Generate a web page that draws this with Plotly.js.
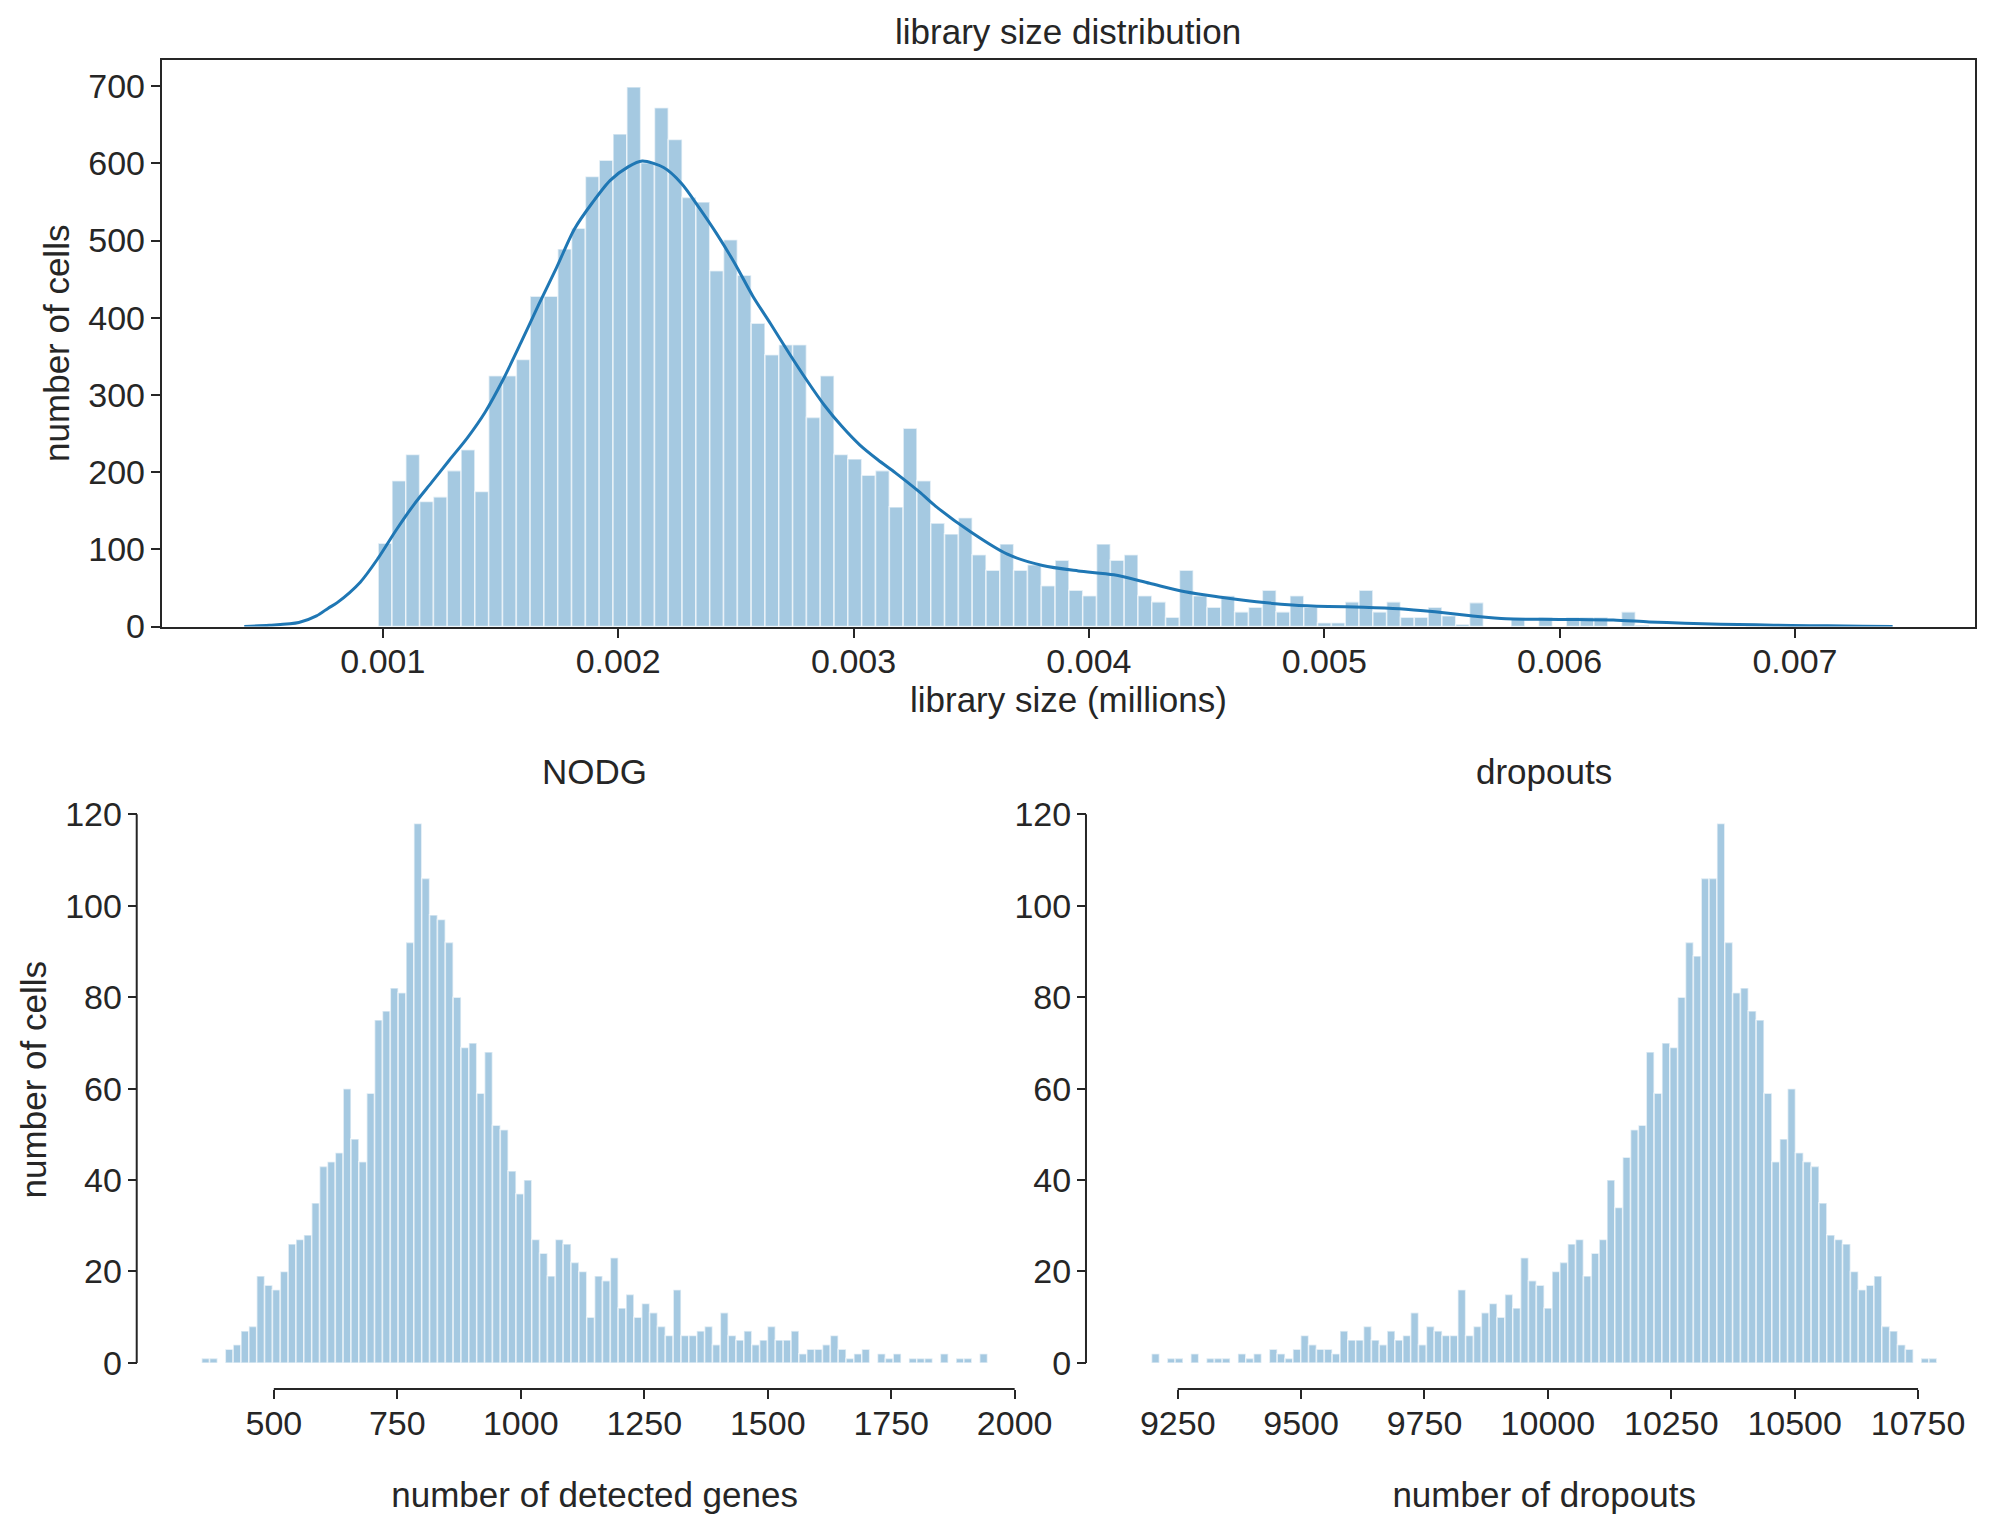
<!DOCTYPE html>
<html><head><meta charset="utf-8">
<script src="https://cdn.plot.ly/plotly-3.0.1.min.js"></script>
<style>html,body{margin:0;padding:0;background:#fff}</style>
</head><body><div id="chart" style="width:1993px;height:1530px"></div>
<script>
// ---------- data ----------
const libRange = [0.00098, 0.00685];
const libCounts = [
  108, 189, 223, 162, 168, 202, 229, 175, 325, 325,
  346, 428, 428, 489, 516, 583, 604, 638, 699, 601,
  672, 631, 556, 550, 461, 501, 455, 393, 352, 365,
  365, 271, 325, 223, 217, 196, 202, 155, 257, 189,
  134, 120, 141, 93, 73, 107, 73, 80, 53, 86,
  47, 40, 107, 86, 93, 40, 32, 12, 73, 40,
  25, 40, 19, 25, 47, 19, 40, 25, 5, 5,
  32, 47, 19, 32, 12, 12, 25, 14, 3, 31,
  0, 0, 11, 0, 12, 0, 12, 12, 12, 0,
  19, 2, 0, 0, 0, 0, 0, 0, 0, 2
];
const kdeX = [0.000411, 0.000517, 0.000643, 0.000718, 0.000768, 0.000806, 0.000904, 0.000980,
  0.001056, 0.001132, 0.001208, 0.001283, 0.001359, 0.001435, 0.001511, 0.001587, 0.001662,
  0.001738, 0.001814, 0.001890, 0.001966, 0.002042, 0.002102, 0.002193, 0.002269, 0.002345,
  0.002420, 0.002496, 0.002572, 0.002648, 0.002724, 0.002799, 0.002875, 0.002951, 0.003027,
  0.003103, 0.003178, 0.003281, 0.003348, 0.003500, 0.003651, 0.003803, 0.003955, 0.004106,
  0.004258, 0.004409, 0.004561, 0.004712, 0.004864, 0.005016, 0.005167, 0.005319, 0.005470,
  0.005622, 0.005773, 0.005925, 0.006077, 0.006228, 0.006380, 0.006531, 0.006683, 0.006834,
  0.006986, 0.007138, 0.007289, 0.007415];
const kdeY = [0.2, 1.7, 5.2, 13.8, 23.8, 31, 57.5, 88.6,
  124.7, 158, 187, 215.8, 244.5, 278, 320, 368, 417,
  465, 515, 549, 578, 595.5, 603, 594.6, 574, 542,
  508, 470, 428, 392, 355, 320, 287, 259, 235,
  216, 199, 174, 156, 122, 94, 79, 72, 67,
  56, 45, 38, 32, 28, 26, 25, 23, 19,
  14, 10, 9.5, 9, 8.6, 6, 4.3, 3, 2.2,
  1.3, 0.9, 0.5, 0.2];

const nodgRange = [354, 1945];
const nodgCounts = [
  1, 1, 0, 3, 4, 7, 8, 19, 17, 16,
  20, 26, 27, 28, 35, 43, 44, 46, 60, 49,
  44, 59, 75, 77, 82, 81, 92, 118, 106, 98,
  97, 92, 80, 69, 70, 59, 68, 52, 51, 42,
  37, 40, 27, 24, 19, 27, 26, 22, 20, 10,
  19, 18, 23, 12, 15, 10, 13, 11, 8, 6,
  16, 6, 6, 7, 8, 4, 11, 6, 5, 7,
  4, 5, 8, 5, 5, 7, 2, 3, 3, 4,
  6, 3, 1, 2, 3, 0, 2, 1, 2, 0,
  1, 1, 1, 0, 2, 0, 1, 1, 0, 2
];

const dropRange = [9197, 10788];
const dropCounts = [
  2, 0, 1, 1, 0, 2, 0, 1, 1, 1,
  0, 2, 1, 2, 0, 3, 2, 1, 3, 6,
  4, 3, 3, 2, 7, 5, 5, 8, 5, 4,
  7, 5, 6, 11, 4, 8, 7, 6, 6, 16,
  6, 8, 11, 13, 10, 15, 12, 23, 18, 17,
  12, 20, 22, 26, 27, 19, 24, 27, 40, 34,
  45, 51, 52, 68, 59, 70, 69, 80, 92, 89,
  106, 106, 118, 92, 81, 82, 77, 75, 59, 44,
  49, 60, 46, 44, 43, 35, 28, 27, 26, 20,
  16, 17, 19, 8, 7, 4, 3, 0, 1, 1
];

const libXTicks = [0.001, 0.002, 0.003, 0.004, 0.005, 0.006, 0.007];
const libXTickText = ['0.001', '0.002', '0.003', '0.004', '0.005', '0.006', '0.007'];
const libYTicks = [0, 100, 200, 300, 400, 500, 600, 700];
const nodgTicks = [500, 750, 1000, 1250, 1500, 1750, 2000];
const nodgTickText = ['500', '750', '1000', '1250', '1500', '1750', '2000'];
const dropTicks = [9250, 9500, 9750, 10000, 10250, 10500, 10750];
const dropTickText = ['9250', '9500', '9750', '10000', '10250', '10500', '10750'];
const countTicks = [0, 20, 40, 60, 80, 100, 120];

const titles = ['library size distribution', 'NODG', 'dropouts'];
const xLabels = ['library size (millions)', 'number of detected genes', 'number of dropouts'];
const yLabel = 'number of cells';

// ---------- helpers ----------
function bins(range, counts) {
  const n = counts.length;
  const w = (range[1] - range[0]) / n;
  return { x: counts.map((_, i) => range[0] + w * (i + 0.5)), w: w };
}
function pad(range, f) { const d = range[1] - range[0]; return [range[0] - d * f, range[1] + d * f]; }

const INK = '#262626';
const FONT = 'Liberation Sans, Arial, Helvetica, sans-serif';
const barStyle = { color: 'rgba(31,119,180,0.4)', line: { color: 'rgba(255,255,255,0.6)', width: 1.6 } };

const bLib = bins(libRange, libCounts);
const bNodg = bins(nodgRange, nodgCounts);
const bDrop = bins(dropRange, dropCounts);

const traces = [
  { type: 'bar', x: bLib.x, y: libCounts, width: bLib.w, marker: barStyle, xaxis: 'x', yaxis: 'y' },
  { type: 'scatter', mode: 'lines', x: kdeX, y: kdeY, line: { color: '#1f77b4', width: 3, shape: 'spline', smoothing: 0.8 }, xaxis: 'x', yaxis: 'y' },
  { type: 'bar', x: bNodg.x, y: nodgCounts, width: bNodg.w, marker: barStyle, xaxis: 'x2', yaxis: 'y2' },
  { type: 'bar', x: bDrop.x, y: dropCounts, width: bDrop.w, marker: barStyle, xaxis: 'x3', yaxis: 'y3' }
];

const tickCommon = { ticks: 'outside', ticklen: 9, tickwidth: 2, tickcolor: INK, showgrid: false, zeroline: false,
  tickfont: { family: FONT, size: 34, color: INK } };
const xTick = Object.assign({}, tickCommon, { ticklabelstandoff: -5 });
const yTick = Object.assign({}, tickCommon, { ticklabelstandoff: -1 });
const titleFont = { family: FONT, size: 35, color: INK };

const libKdeSpan = [kdeX[0], kdeX[kdeX.length - 1]];
const nodgSpan = pad(nodgRange, 0.05);
const dropSpan = pad(dropRange, 0.05);
const countMax = Math.max(...nodgCounts, ...dropCounts);
const libMax = Math.max(...libCounts);

const X_POS = 0.0922;

const layout = {
  width: 1993, height: 1530,
  margin: { l: 0, r: 0, t: 0, b: 0 },
  paper_bgcolor: '#ffffff', plot_bgcolor: 'rgba(0,0,0,0)',
  showlegend: false, bargap: 0,
  font: { family: FONT, size: 34, color: INK },
  xaxis: Object.assign({}, xTick, {
    domain: [0.0812, 0.991], range: pad(libKdeSpan, 0.05), anchor: 'y',
    showline: true, mirror: true, linecolor: INK, linewidth: 2,
    tickmode: 'array', tickvals: libXTicks, ticktext: libXTickText,
    title: { text: xLabels[0], font: titleFont, standoff: 6 }
  }),
  yaxis: Object.assign({}, yTick, {
    domain: [0.5905, 0.9608], range: [0, libMax * 1.05], anchor: 'x',
    showline: true, mirror: true, linecolor: INK, linewidth: 2,
    tickmode: 'array', tickvals: libYTicks,
    title: { text: yLabel, font: titleFont, standoff: 8 }
  }),
  xaxis2: Object.assign({}, xTick, {
    domain: [0.0815, 0.5152], range: nodgSpan, anchor: 'free', position: X_POS,
    showline: false, tickmode: 'array', tickvals: nodgTicks, ticktext: nodgTickText,
    title: { text: xLabels[1], font: titleFont, standoff: 41 }
  }),
  yaxis2: Object.assign({}, yTick, {
    domain: [0.1092, 0.4794], range: [0, countMax * 1.05], anchor: 'free', position: 0.0686,
    showline: false, tickmode: 'array', tickvals: countTicks,
    title: { text: yLabel, font: titleFont, standoff: 6 }
  }),
  xaxis3: Object.assign({}, xTick, {
    domain: [0.5581, 0.9915], range: dropSpan, anchor: 'free', position: X_POS,
    showline: false, tickmode: 'array', tickvals: dropTicks, ticktext: dropTickText,
    title: { text: xLabels[2], font: titleFont, standoff: 41 }
  }),
  yaxis3: Object.assign({}, yTick, {
    domain: [0.1092, 0.4794], range: [0, countMax * 1.05], anchor: 'free', position: 0.5449,
    showline: false, tickmode: 'array', tickvals: countTicks
  }),
  shapes: [
    { type: 'line', xref: 'x2', yref: 'paper', x0: nodgTicks[0], x1: nodgTicks[nodgTicks.length - 1], y0: X_POS, y1: X_POS, line: { color: INK, width: 2 } },
    { type: 'line', xref: 'x3', yref: 'paper', x0: dropTicks[0], x1: dropTicks[dropTicks.length - 1], y0: X_POS, y1: X_POS, line: { color: INK, width: 2 } },
    { type: 'line', xref: 'paper', yref: 'y2', x0: 0.0686, x1: 0.0686, y0: countTicks[0], y1: countTicks[countTicks.length - 1], line: { color: INK, width: 2 } },
    { type: 'line', xref: 'paper', yref: 'y3', x0: 0.5449, x1: 0.5449, y0: countTicks[0], y1: countTicks[countTicks.length - 1], line: { color: INK, width: 2 } }
  ],
  annotations: [
    { text: titles[0], xref: 'paper', yref: 'paper', x: 0.536, y: 0.9797, xanchor: 'center', yanchor: 'middle', showarrow: false, font: titleFont },
    { text: titles[1], xref: 'paper', yref: 'paper', x: 0.2984, y: 0.4957, xanchor: 'center', yanchor: 'middle', showarrow: false, font: titleFont },
    { text: titles[2], xref: 'paper', yref: 'paper', x: 0.7748, y: 0.4957, xanchor: 'center', yanchor: 'middle', showarrow: false, font: titleFont }
  ]
};

Plotly.newPlot('chart', traces, layout, { displayModeBar: false, staticPlot: true });
</script>
</body></html>
